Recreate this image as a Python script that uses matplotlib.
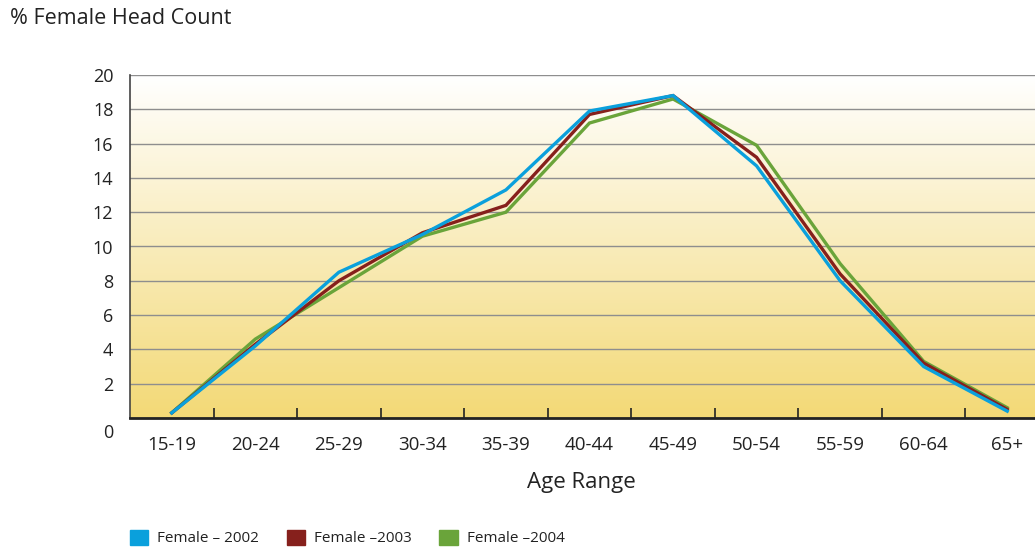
import matplotlib
matplotlib.use("Agg")
from matplotlib import pyplot as plt
import matplotlib.patches as mpatches
import matplotlib.transforms as mtransforms
from matplotlib.colors import LinearSegmentedColormap
import numpy as np

plt.rcParams['font.family'] = ['Open Sans', 'DejaVu Sans']

# Age bands and share of female head count (%) per year
age_ranges = ["15-19", "20-24", "25-29", "30-34", "35-39", "40-44",
              "45-49", "50-54", "55-59", "60-64", "65+"]
female_2002 = [0.3, 4.2, 8.5, 10.7, 13.3, 17.9, 18.8, 14.7, 8.0, 3.0, 0.4]
female_2003 = [0.3, 4.3, 8.0, 10.8, 12.4, 17.7, 18.8, 15.2, 8.4, 3.2, 0.5]
female_2004 = [0.3, 4.6, 7.6, 10.6, 12.0, 17.2, 18.6, 15.9, 9.0, 3.3, 0.6]

series = [
    ("Female \u2013 2002", female_2002, "#0aa0dc"),
    ("Female \u20132003", female_2003, "#86201c"),
    ("Female \u20132004", female_2004, "#6aa43a"),
]

fig = plt.figure(figsize=(10.35, 5.52), dpi=100)
# axes runs off the right edge of the figure on purpose
ax = fig.add_axes([130 / 1035, 1 - 418 / 552, 919 / 1035, 343 / 552])

x = np.arange(len(age_ranges))
ax.set_xlim(-0.5, len(age_ranges) - 0.5)
ax.set_ylim(0, 20)

# white-to-yellow background gradient
grad_cmap = LinearSegmentedColormap.from_list("bg", ["#f3d976", "#ffffff"])
grad = np.linspace(0, 1, 256).reshape(-1, 1)
ax.imshow(grad, cmap=grad_cmap, origin="lower", aspect="auto",
          extent=(-0.5, len(age_ranges) - 0.5, 0, 20), zorder=0)

# 2002 drawn last so it sits on top
for z, (label, vals, color) in zip([5, 4, 3], series):
    ax.plot(x, vals, color=color, lw=2.4, solid_joinstyle="miter", zorder=z)

ax.set_yticks(np.arange(0, 21, 2))
ax.grid(axis="y", color="#8e8e8e", lw=1.0)
for gl in ax.get_ygridlines():
    gl.set_zorder(1)
ax.tick_params(axis="y", length=0, pad=12, labelsize=13, labelcolor="#222222")

# category labels centered, short tick marks on the boundaries
ax.set_xticks(x)
ax.set_xticklabels(age_ranges)
ax.tick_params(axis="x", which="major", length=0, pad=13, labelsize=13.5, labelcolor="#222222")
ax.set_xticks(x[:-1] + 0.5, minor=True)
ax.tick_params(axis="x", which="minor", direction="in", length=7, width=1.2, color="#222222")

# the zero label sits a bit lower than the rest
zero_lbl = ax.get_yticklabels()[0]
zero_lbl.set_transform(zero_lbl.get_transform() +
                       mtransforms.ScaledTranslation(0, -9 / 72, fig.dpi_scale_trans))

for side in ("top", "right"):
    ax.spines[side].set_visible(False)
ax.spines["left"].set_color("#444444")
ax.spines["left"].set_linewidth(1.2)
ax.spines["bottom"].set_color("#222222")
ax.spines["bottom"].set_linewidth(2.0)

ax.set_xlabel("Age Range", fontsize=16, color="#222222")
ax.xaxis.set_label_coords((581 - 130) / 919, -(472 - 418) / 343)

fig.text(10 / 1035, 1 - 18 / 552, "% Female Head Count", fontsize=15.5,
         color="#222222", va="center", ha="left")

handles = [mpatches.Patch(color=c, label=l) for l, _, c in series]
fig.legend(handles=handles, loc="center left", bbox_to_anchor=(116 / 1035, 1 - 538 / 552),
           ncol=3, frameon=False, fontsize=11, handlelength=1.2, handleheight=1.2,
           handletextpad=0.6, columnspacing=1.8, labelcolor="#222222")

fig.savefig("out.png", dpi=100)
